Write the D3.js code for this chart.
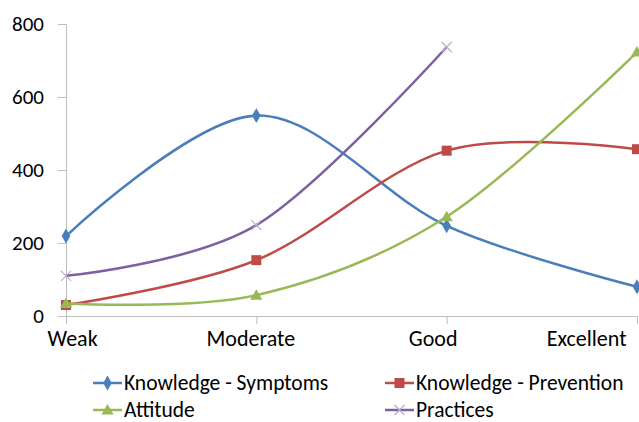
<!DOCTYPE html>
<html>
<head>
<meta charset="utf-8">
<script src="https://cdn.jsdelivr.net/npm/d3@7"></script>
<style>
  body { margin: 0; background: #fff; }
  svg text { font-family: Calibri, Carlito, "Open Sans", sans-serif; fill: #000; }
</style>
</head>
<body>
<div id="chart"></div>
<script>
// categories and values
var categories = ["Weak", "Moderate", "Good", "Excellent"];
var symptoms   = [219, 549, 247, 80];
var prevention = [30, 153, 453, 457];
var attitude   = [34, 57, 272, 723];
var practices  = [110, 249, 737, null];
var yTicks = [0, 200, 400, 600, 800];

var seriesNames = ["Knowledge - Symptoms", "Knowledge - Prevention", "Attitude", "Practices"];

var W = 639, H = 422;
var margin = {left: 66, right: 2, top: 24, bottom: 106};

var svg = d3.select("#chart").append("svg")
    .attr("width", W)
    .attr("height", H);

var x = d3.scalePoint()
    .domain(categories)
    .range([margin.left, W - margin.right]);

var y = d3.scaleLinear()
    .domain([0, 800])
    .range([H - margin.bottom, margin.top]);

// y axis
var yAxis = svg.append("g")
    .attr("transform", "translate(" + margin.left + ",0)")
    .call(d3.axisLeft(y).tickValues(yTicks).tickSize(8).tickPadding(14));
yAxis.selectAll("path, line").attr("stroke", "#bfbfbf");
yAxis.selectAll("text").style("font-size", "21px");

// x axis
var xAxis = svg.append("g")
    .attr("transform", "translate(0," + (H - margin.bottom) + ")")
    .call(d3.axisBottom(x).tickSize(8).tickSizeOuter(0).tickPadding(6));
xAxis.selectAll("path, line").attr("stroke", "#bfbfbf");
xAxis.select(".domain").attr("d", "M" + margin.left + ",0.5H" + (W - margin.right));
// labels sit a little off their ticks, the last one is pulled in to fit
var labelShift = [6, -6, -14, 0];
xAxis.selectAll(".tick text")
    .style("font-size", "22px")
    .attr("dx", function(d, i) { return labelShift[i]; })
    .attr("text-anchor", function(d, i) { return i === categories.length - 1 ? "end" : "middle"; })
    .attr("x", function(d, i) { return i === categories.length - 1 ? -11 : 0; });

var series = [
    {name: seriesNames[0], values: symptoms,   color: "#4a7ebb", marker: "diamond"},
    {name: seriesNames[1], values: prevention, color: "#be4b48", marker: "square"},
    {name: seriesNames[2], values: attitude,   color: "#98b954", marker: "triangle"},
    {name: seriesNames[3], values: practices,  color: "#7d60a0", marker: "cross"}
];

var line = d3.line()
    .defined(function(d) { return d.v != null; })
    .x(function(d) { return x(d.c); })
    .y(function(d) { return y(d.v); })
    .curve(d3.curveCardinal.tension(0));

function drawMarker(g, type, color, cx, cy) {
    if (type === "diamond") {
        g.append("path")
            .attr("d", d3.symbol(d3.symbolDiamond, 64)())
            .attr("transform", "translate(" + cx + "," + cy + ")")
            .attr("fill", color);
    } else if (type === "square") {
        g.append("rect")
            .attr("x", cx - 5).attr("y", cy - 5)
            .attr("width", 10).attr("height", 10)
            .attr("fill", color);
    } else if (type === "triangle") {
        g.append("path")
            .attr("d", d3.symbol(d3.symbolTriangle, 64)())
            .attr("transform", "translate(" + cx + "," + (cy + 1) + ")")
            .attr("fill", color);
    } else {
        g.append("path")
            .attr("d", "M-5,-5L5,5M-5,5L5,-5")
            .attr("transform", "translate(" + cx + "," + cy + ")")
            .attr("stroke", "#b9aed0")
            .attr("stroke-width", 1.2)
            .attr("fill", "none");
    }
}

series.forEach(function(s) {
    var pts = categories.map(function(c, i) { return {c: c, v: s.values[i]}; });
    svg.append("path")
        .datum(pts)
        .attr("d", line)
        .attr("fill", "none")
        .attr("stroke", s.color)
        .attr("stroke-width", 2.5);
    var g = svg.append("g");
    pts.forEach(function(p) {
        if (p.v == null) return;
        drawMarker(g, s.marker, s.color, x(p.c), y(p.v));
    });
});

// legend
var legendPos = [[93, 383], [385, 383], [93, 410], [385, 410]];
series.forEach(function(s, i) {
    var lx = legendPos[i][0], ly = legendPos[i][1];
    var g = svg.append("g");
    g.append("line")
        .attr("x1", lx).attr("x2", lx + 29)
        .attr("y1", ly).attr("y2", ly)
        .attr("stroke", s.color)
        .attr("stroke-width", 2.5);
    drawMarker(g, s.marker, s.color, lx + 14.5, ly);
    g.append("text")
        .attr("x", lx + 31)
        .attr("y", ly + 7)
        .style("font-size", "21.5px")
        .text(s.name);
});
</script>
</body>
</html>
